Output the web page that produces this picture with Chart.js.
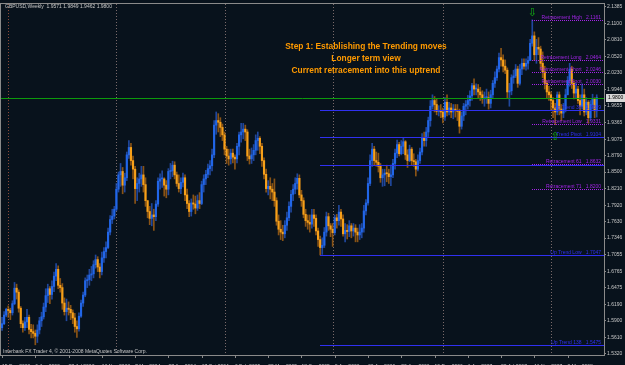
<!DOCTYPE html>
<html lang="en">
<head>
<meta charset="UTF-8" />
<title>GBPUSD Weekly</title>
<style>
  * { margin: 0; padding: 0; }
  body { background: #08121c; }
  .chartBox { width: 625px; height: 365px; }
</style>
</head>
<body>
<div class="chartBox"><canvas id="myChart"></canvas></div>
<script src="https://cdn.jsdelivr.net/npm/chart.js"></script>
<script>
// weekly bars from 15 Dec 2002, open = previous close
const firstOpen = 1.578;
const closes = [
  1.585,1.600,1.610,1.608,1.604,1.620,1.647,1.640,1.612,1.585,
  1.578,1.588,1.596,1.575,1.571,1.568,1.563,1.574,1.590,1.597,
  1.614,1.634,1.646,1.636,1.650,1.668,1.680,1.652,1.648,1.621,
  1.606,1.612,1.610,1.604,1.595,1.580,1.576,1.598,1.621,1.635,
  1.660,1.662,1.670,1.672,1.688,1.697,1.684,1.676,1.700,1.711,
  1.718,1.745,1.767,1.773,1.785,1.820,1.845,1.851,1.827,1.840,
  1.880,1.893,1.870,1.855,1.821,1.830,1.838,1.845,1.828,1.800,
  1.781,1.769,1.775,1.772,1.794,1.834,1.838,1.838,1.827,1.820,
  1.851,1.852,1.862,1.845,1.830,1.821,1.832,1.840,1.810,1.795,
  1.781,1.796,1.794,1.787,1.800,1.795,1.828,1.838,1.846,1.856,
  1.861,1.880,1.932,1.940,1.937,1.928,1.915,1.890,1.878,1.873,
  1.883,1.876,1.873,1.895,1.915,1.920,1.925,1.920,1.878,1.873,
  1.880,1.888,1.905,1.909,1.895,1.870,1.846,1.821,1.825,1.820,
  1.815,1.800,1.764,1.750,1.745,1.742,1.757,1.770,1.790,1.811,
  1.820,1.830,1.839,1.810,1.800,1.776,1.765,1.762,1.759,1.775,
  1.769,1.747,1.732,1.718,1.722,1.745,1.772,1.756,1.750,1.744,
  1.770,1.765,1.780,1.768,1.742,1.748,1.746,1.756,1.747,1.752,
  1.745,1.740,1.745,1.752,1.782,1.796,1.830,1.870,1.890,1.870,
  1.867,1.860,1.840,1.845,1.848,1.847,1.842,1.845,1.865,1.883,
  1.898,1.882,1.895,1.903,1.880,1.870,1.890,1.870,1.868,1.855,
  1.870,1.885,1.910,1.905,1.920,1.940,1.965,1.975,1.968,1.956,
  1.958,1.955,1.946,1.972,1.955,1.962,1.955,1.960,1.958,1.956,
  1.930,1.948,1.965,1.968,1.975,1.983,2.001,1.995,1.995,1.990,
  1.985,1.978,1.980,1.980,1.970,1.985,2.005,2.015,2.030,2.050,
  2.046,2.035,2.028,1.990,1.992,2.015,2.018,2.030,2.005,2.030,
  2.040,2.035,2.040,2.045,2.075,2.088,2.055,2.068,2.065,2.040,
  2.025,2.005,1.990,1.985,1.975,1.962,1.955,1.985,1.960,1.953,
  1.960,1.985,2.010,2.030,2.005,1.988,1.995,1.975,1.965,1.985,
  1.955,1.972,1.945,1.968,1.977,1.957,1.980
];
const highs = [
  1.596,1.606,1.612,1.616,1.612,1.625,1.657,1.654,1.644,1.615,
  1.590,1.596,1.610,1.600,1.584,1.583,1.574,1.583,1.596,1.605,
  1.621,1.646,1.654,1.650,1.660,1.675,1.690,1.686,1.664,1.655,
  1.630,1.628,1.623,1.617,1.609,1.603,1.590,1.604,1.626,1.640,
  1.665,1.670,1.680,1.685,1.695,1.705,1.702,1.690,1.710,1.718,
  1.728,1.752,1.774,1.785,1.790,1.830,1.850,1.865,1.858,1.848,
  1.885,1.905,1.900,1.878,1.860,1.840,1.848,1.860,1.860,1.840,
  1.800,1.790,1.795,1.785,1.800,1.840,1.847,1.852,1.840,1.835,
  1.856,1.865,1.869,1.868,1.850,1.845,1.840,1.848,1.845,1.820,
  1.800,1.803,1.810,1.808,1.810,1.814,1.834,1.845,1.853,1.864,
  1.870,1.890,1.940,1.955,1.952,1.945,1.934,1.920,1.895,1.890,
  1.890,1.890,1.880,1.900,1.920,1.935,1.935,1.932,1.924,1.890,
  1.892,1.898,1.915,1.920,1.912,1.900,1.875,1.855,1.835,1.840,
  1.830,1.838,1.805,1.775,1.765,1.757,1.765,1.780,1.798,1.818,
  1.828,1.840,1.847,1.845,1.818,1.805,1.785,1.775,1.775,1.785,
  1.785,1.775,1.752,1.738,1.735,1.753,1.780,1.778,1.760,1.760,
  1.775,1.776,1.792,1.785,1.775,1.760,1.758,1.765,1.760,1.760,
  1.758,1.752,1.758,1.760,1.792,1.802,1.840,1.880,1.900,1.895,
  1.885,1.883,1.865,1.855,1.855,1.862,1.855,1.862,1.872,1.890,
  1.906,1.902,1.905,1.910,1.905,1.889,1.897,1.893,1.882,1.872,
  1.880,1.892,1.917,1.920,1.928,1.946,1.975,1.985,1.982,1.978,
  1.966,1.968,1.962,1.980,1.985,1.972,1.970,1.968,1.968,1.968,
  1.960,1.955,1.970,1.975,1.984,1.992,2.005,2.013,2.004,2.003,
  1.998,1.992,1.990,1.995,1.990,1.993,2.010,2.025,2.035,2.058,
  2.066,2.055,2.046,2.032,2.005,2.020,2.028,2.038,2.035,2.038,
  2.048,2.048,2.048,2.052,2.082,2.116,2.095,2.082,2.085,2.070,
  2.060,2.035,2.010,2.000,1.990,1.980,1.970,1.990,1.990,1.968,
  1.970,1.995,2.017,2.040,2.035,2.010,2.005,2.000,1.985,2.004,
  1.995,1.980,1.975,1.975,1.986,1.980,1.985
];
const lows = [
  1.573,1.583,1.597,1.596,1.592,1.600,1.618,1.628,1.605,1.578,
  1.570,1.573,1.578,1.567,1.560,1.560,1.548,1.552,1.567,1.580,
  1.593,1.606,1.622,1.620,1.628,1.641,1.660,1.646,1.640,1.610,
  1.600,1.590,1.600,1.592,1.585,1.570,1.561,1.572,1.596,1.615,
  1.632,1.648,1.652,1.660,1.665,1.682,1.676,1.665,1.670,1.692,
  1.700,1.716,1.740,1.760,1.768,1.782,1.815,1.825,1.812,1.815,
  1.835,1.874,1.862,1.838,1.795,1.800,1.815,1.825,1.815,1.790,
  1.770,1.758,1.756,1.748,1.765,1.790,1.820,1.823,1.808,1.805,
  1.810,1.838,1.842,1.838,1.825,1.815,1.812,1.824,1.800,1.786,
  1.772,1.773,1.785,1.777,1.783,1.786,1.793,1.815,1.828,1.840,
  1.845,1.852,1.875,1.916,1.920,1.912,1.905,1.880,1.865,1.862,
  1.864,1.866,1.855,1.866,1.880,1.902,1.908,1.905,1.870,1.864,
  1.865,1.870,1.880,1.888,1.882,1.860,1.838,1.815,1.810,1.803,
  1.800,1.790,1.757,1.740,1.732,1.730,1.735,1.748,1.765,1.780,
  1.800,1.812,1.820,1.805,1.790,1.770,1.755,1.750,1.745,1.752,
  1.755,1.740,1.720,1.705,1.706,1.718,1.738,1.748,1.737,1.720,
  1.740,1.752,1.757,1.755,1.738,1.728,1.733,1.737,1.735,1.738,
  1.728,1.728,1.732,1.735,1.745,1.775,1.792,1.826,1.860,1.862,
  1.860,1.850,1.832,1.825,1.826,1.833,1.830,1.826,1.840,1.855,
  1.875,1.878,1.880,1.882,1.872,1.858,1.868,1.862,1.860,1.843,
  1.852,1.865,1.880,1.895,1.895,1.912,1.930,1.960,1.955,1.950,
  1.948,1.945,1.936,1.940,1.948,1.950,1.945,1.943,1.946,1.940,
  1.918,1.925,1.940,1.950,1.960,1.965,1.975,1.985,1.985,1.980,
  1.975,1.970,1.965,1.970,1.960,1.962,1.980,1.998,2.010,2.025,
  2.035,2.025,2.022,1.980,1.965,1.985,2.005,2.015,1.998,2.002,
  2.020,2.030,2.028,2.030,2.045,2.070,2.045,2.040,2.055,2.030,
  2.015,1.995,1.980,1.975,1.958,1.945,1.933,1.950,1.950,1.940,
  1.945,1.955,1.985,2.000,1.996,1.978,1.980,1.970,1.950,1.960,
  1.948,1.950,1.935,1.940,1.960,1.945,1.946
];

// one date label every 16 bars
const dateLabels = ['15 Dec 2002','6 Apr 2003','27 Jul 2003','16 Nov 2003','7 Mar 2004','27 Jun 2004',
  '17 Oct 2004','6 Feb 2005','29 May 2005','18 Sep 2005','8 Jan 2006','30 Apr 2006','20 Aug 2006',
  '10 Dec 2006','1 Apr 2007','22 Jul 2007','11 Nov 2007','2 Mar 2008'];
const priceTicks = [2.1385,2.1100,2.0810,2.0520,2.0230,1.9946,1.9655,1.9365,1.9075,1.8790,1.8500,
  1.8210,1.7920,1.7630,1.7346,1.7055,1.6765,1.6475,1.6190,1.5900,1.5610,1.5320];
const yearStarts = [3, 55, 107, 159, 212, 264];
const slotCount = 290;
const lastPrice = 1.9800;

// fibo levels drawn on the chart
const levelNames = ['Retracement High','Retracement Long','Retracement Short','Retracement Foot',
  'Up Trend 38','Retracement Low','Trend Pivot','Up Trend 61','Retracement 61','Retracement 71',
  'Up Trend Low','Up Trend 138'];
const levelPrices = [2.1161,2.0464,2.0246,2.0030,1.9589,1.9331,1.9104,1.8619,1.8632,1.8200,1.7047,1.5475];
const levelFrom = [255,255,255,255,153,255,153,153,255,255,153,153];
const levelIsTrend = [false,false,false,false,true,false,true,true,false,false,true,true];
const levelShowText = [true,true,true,true,true,true,true,false,true,true,true,true];

const noteLines = ['Step 1: Establishing the Trending moves','Longer term view','Current retracement into this uptrend'];

const opens = closes.map((c, i) => (i === 0 ? firstOpen : closes[i - 1]));
const isUp = closes.map((c, i) => c >= opens[i]);
const slots = Array.from({ length: slotCount }, (_, i) => String(i));

const BG = '#08121c';
const UP = '#2166e8';
const DOWN = '#f7a019';
const FIB = '#a223e6';
const TREND = '#3030f0';
const AXIS = '#8a8a8a';
const TXT = '#c8c8c8';

const overlay = {
  id: 'overlay',
  beforeDraw(chart) {
    const c = chart.ctx;
    c.save();
    c.fillStyle = BG;
    c.fillRect(0, 0, chart.width, chart.height);
    c.restore();
  },
  beforeDatasetsDraw(chart) {
    const c = chart.ctx, a = chart.chartArea, x = chart.scales.x;
    c.save();
    c.setLineDash([1, 2]);
    c.lineWidth = 1;
    yearStarts.forEach((idx, k) => {
      const px = Math.round(x.getPixelForValue(idx)) + 0.5;
      c.strokeStyle = k === 0 ? '#8a4a3a' : '#7a6a6a';
      c.beginPath();
      c.moveTo(px, a.top);
      c.lineTo(px, a.bottom);
      c.stroke();
    });
    c.restore();
  },
  afterDatasetsDraw(chart) {
    const c = chart.ctx, a = chart.chartArea, x = chart.scales.x, y = chart.scales.y;
    c.save();
    // current price line
    const py = Math.round(y.getPixelForValue(lastPrice)) + 0.5;
    c.strokeStyle = '#0c9a0c';
    c.lineWidth = 1;
    c.beginPath();
    c.moveTo(a.left, py);
    c.lineTo(a.right, py);
    c.stroke();

    // levels
    c.font = '5px "Liberation Sans"';
    c.textAlign = 'right';
    c.textBaseline = 'alphabetic';
    levelPrices.forEach((p, i) => {
      const ly = Math.round(y.getPixelForValue(p)) + 0.5;
      const lx = Math.round(x.getPixelForValue(levelFrom[i]));
      c.strokeStyle = levelIsTrend[i] ? TREND : FIB;
      c.setLineDash(levelIsTrend[i] ? [] : [1, 1]);
      c.beginPath();
      c.moveTo(lx, ly);
      c.lineTo(a.right, ly);
      c.stroke();
      if (levelShowText[i]) {
        c.fillStyle = levelIsTrend[i] ? TREND : FIB;
        c.fillText(levelNames[i] + '   ' + p.toFixed(4), a.right - 3, ly - 1.5);
      }
    });
    c.setLineDash([]);

    // arrows at the high and at the pivot
    c.fillStyle = '#12b012';
    c.font = '11px "DejaVu Sans"';
    c.textAlign = 'center';
    c.textBaseline = 'middle';
    c.fillText('\u21e9', x.getPixelForValue(255), y.getPixelForValue(2.128));
    c.fillText('\u21e7', x.getPixelForValue(266), y.getPixelForValue(1.9104));

    // notes
    c.fillStyle = '#ff9a00';
    c.font = 'bold 8.4px "Liberation Sans"';
    noteLines.forEach((t, i) => c.fillText(t, 366, 47 + i * 12));

    // header and footer text
    c.fillStyle = TXT;
    c.font = '5px "Liberation Sans"';
    c.textAlign = 'left';
    c.fillText('GBPUSD,Weekly  1.9571 1.9849 1.9462 1.9800', 5, 7);
    c.fillText('Interbank FX Trader 4, \u00a9 2001-2008 MetaQuotes Software Corp.', 3, 352);

    // frame
    c.strokeStyle = AXIS;
    c.strokeRect(a.left - 0.5, a.top - 0.5, a.right - a.left + 1, a.bottom - a.top + 1);
    c.restore();
  },
  afterDraw(chart) {
    const c = chart.ctx, a = chart.chartArea, y = chart.scales.y, x = chart.scales.x;
    c.save();
    // last price tag
    const py = Math.round(y.getPixelForValue(lastPrice));
    c.fillStyle = '#d8d8d8';
    c.fillRect(a.right + 2, py - 4, 19, 8);
    c.fillStyle = '#000000';
    c.font = '5px "Liberation Sans"';
    c.textBaseline = 'middle';
    c.textAlign = 'left';
    c.fillText(lastPrice.toFixed(4), a.right + 4, py);
    // date tick marks
    c.strokeStyle = AXIS;
    dateLabels.forEach((d, k) => {
      const px = Math.round(x.getPixelForValue(k * 16)) + 0.5;
      c.beginPath();
      c.moveTo(px, a.bottom);
      c.lineTo(px, a.bottom + 3);
      c.stroke();
    });
    c.restore();
  }
};

const ctx = document.getElementById('myChart');
new Chart(ctx, {
  type: 'bar',
  data: {
    labels: slots,
    datasets: [
      {
        label: 'body',
        data: closes.map((cl, i) => [opens[i], cl]),
        backgroundColor: isUp.map(u => (u ? UP : DOWN)),
        barThickness: 1.5,
        minBarLength: 1,
        grouped: false,
        order: 0
      },
      {
        label: 'wick',
        data: lows.map((l, i) => [l, highs[i]]),
        backgroundColor: isUp.map(u => (u ? 'rgba(40,90,200,0.75)' : 'rgba(170,100,20,0.8)')),
        barThickness: 1,
        grouped: false,
        order: 1
      }
    ]
  },
  options: {
    responsive: true,
    maintainAspectRatio: false,
    animation: false,
    devicePixelRatio: 1,
    layout: { padding: { top: 1, left: 1, right: 0, bottom: 0 } },
    plugins: { legend: { display: false }, tooltip: { enabled: false } },
    scales: {
      x: {
        offset: true,
        grid: { display: false },
        border: { display: false },
        ticks: {
          autoSkip: false,
          maxRotation: 0,
          minRotation: 0,
          align: 'start',
          padding: 1,
          color: TXT,
          font: { family: 'Liberation Sans', size: 5 },
          callback: (v, i) => (i % 16 === 0 && dateLabels[i / 16] ? dateLabels[i / 16] : '')
        },
        afterFit: s => { s.height = 10; }
      },
      y: {
        position: 'right',
        min: 1.5302,
        max: 2.1437,
        afterBuildTicks: s => { s.ticks = priceTicks.map(v => ({ value: v })); },
        grid: { drawOnChartArea: false, drawTicks: true, tickLength: 2, color: AXIS },
        border: { display: true, color: AXIS },
        ticks: {
          padding: 1,
          color: TXT,
          font: { family: 'Liberation Sans', size: 5 },
          callback: v => v.toFixed(4)
        },
        afterFit: s => { s.width = 21; }
      }
    }
  },
  plugins: [overlay]
});
</script>
</body>
</html>
